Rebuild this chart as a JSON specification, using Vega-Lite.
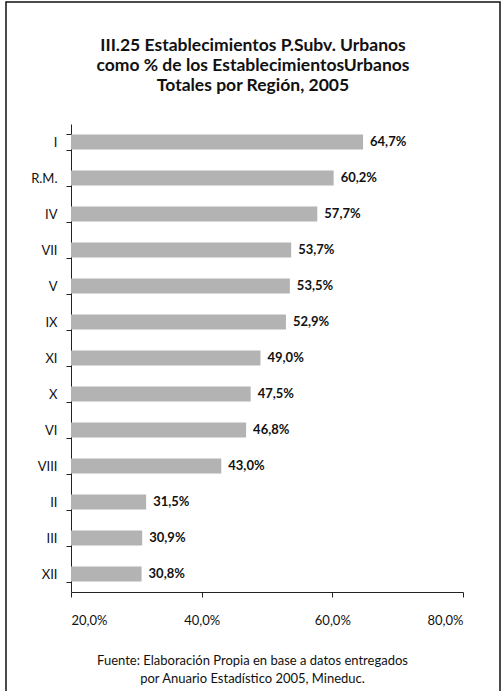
{
  "$schema": "https://vega.github.io/schema/vega-lite/v6.json",
  "autosize": "none",
  "width": 494,
  "height": 690,
  "padding": {"left": 6, "top": 2, "right": 3, "bottom": 0},
  "background": "white",
  "title": {
    "text": ["III.25 Establecimientos P.Subv. Urbanos", "como % de los EstablecimientosUrbanos", "Totales por Región, 2005"],
    "anchor": "middle",
    "offset": -98,
    "fontSize": 17.5,
    "font": "Lato",
    "fontWeight": "bold",
    "color": "#111111",
    "lineHeight": 20
  },
  "data": {
    "values": [
      {"region": "I", "value": 0.647},
      {"region": "R.M.", "value": 0.602},
      {"region": "IV", "value": 0.577},
      {"region": "VII", "value": 0.537},
      {"region": "V", "value": 0.535},
      {"region": "IX", "value": 0.529},
      {"region": "XI", "value": 0.490},
      {"region": "X", "value": 0.475},
      {"region": "VI", "value": 0.468},
      {"region": "VIII", "value": 0.430},
      {"region": "II", "value": 0.315},
      {"region": "III", "value": 0.309},
      {"region": "XII", "value": 0.308}
    ]
  },
  "encoding": {
    "y": {
      "field": "region",
      "type": "nominal",
      "sort": null,
      "scale": {"range": [122, 590], "paddingInner": 0.58, "paddingOuter": 0.29},
      "axis": {
        "title": null,
        "offset": -65,
        "tickBand": "extent",
        "tickSize": 5,
        "labelPadding": 9,
        "labelFontSize": 13,
        "labelFont": "Lato",
        "labelColor": "#111111",
        "domainColor": "#222222",
        "tickColor": "#222222"
      }
    },
    "x": {
      "field": "value",
      "type": "quantitative",
      "scale": {"domain": [0.2, 0.8], "range": [65, 457], "zero": false, "nice": false},
      "axis": {
        "values": [0.2, 0.4, 0.6, 0.8],
        "format": ".1%",
        "offset": -100,
        "grid": false,
        "tickSize": 5,
        "labelPadding": 17,
        "labelFontSize": 13,
        "labelFont": "Lato",
        "labelColor": "#111111",
        "domainColor": "#222222",
        "tickColor": "#222222",
        "title": ["Fuente: Elaboración Propia en base a datos entregados", "por Anuario Estadístico 2005, Mineduc."],
        "titleFont": "Lato",
        "titleFontSize": 13,
        "titleFontWeight": "normal",
        "titleColor": "#111111",
        "titlePadding": 27,
        "titleLineHeight": 18,
        "titleX": 246
      }
    }
  },
  "layer": [
    {
      "mark": {"type": "bar", "color": "#b3b3b3"},
      "encoding": {"x2": {"datum": 0.2}}
    },
    {
      "mark": {"type": "text", "align": "left", "dx": 7, "font": "Lato", "fontSize": 13, "fontWeight": "bold", "color": "#111111"},
      "encoding": {"text": {"field": "value", "type": "quantitative", "format": ".1%"}}
    }
  ],
  "config": {
    "locale": {"number": {"decimal": ",", "thousands": ".", "grouping": [3], "currency": ["$", ""]}},
    "view": {"stroke": "#111111", "strokeWidth": 1.5}
  }
}
